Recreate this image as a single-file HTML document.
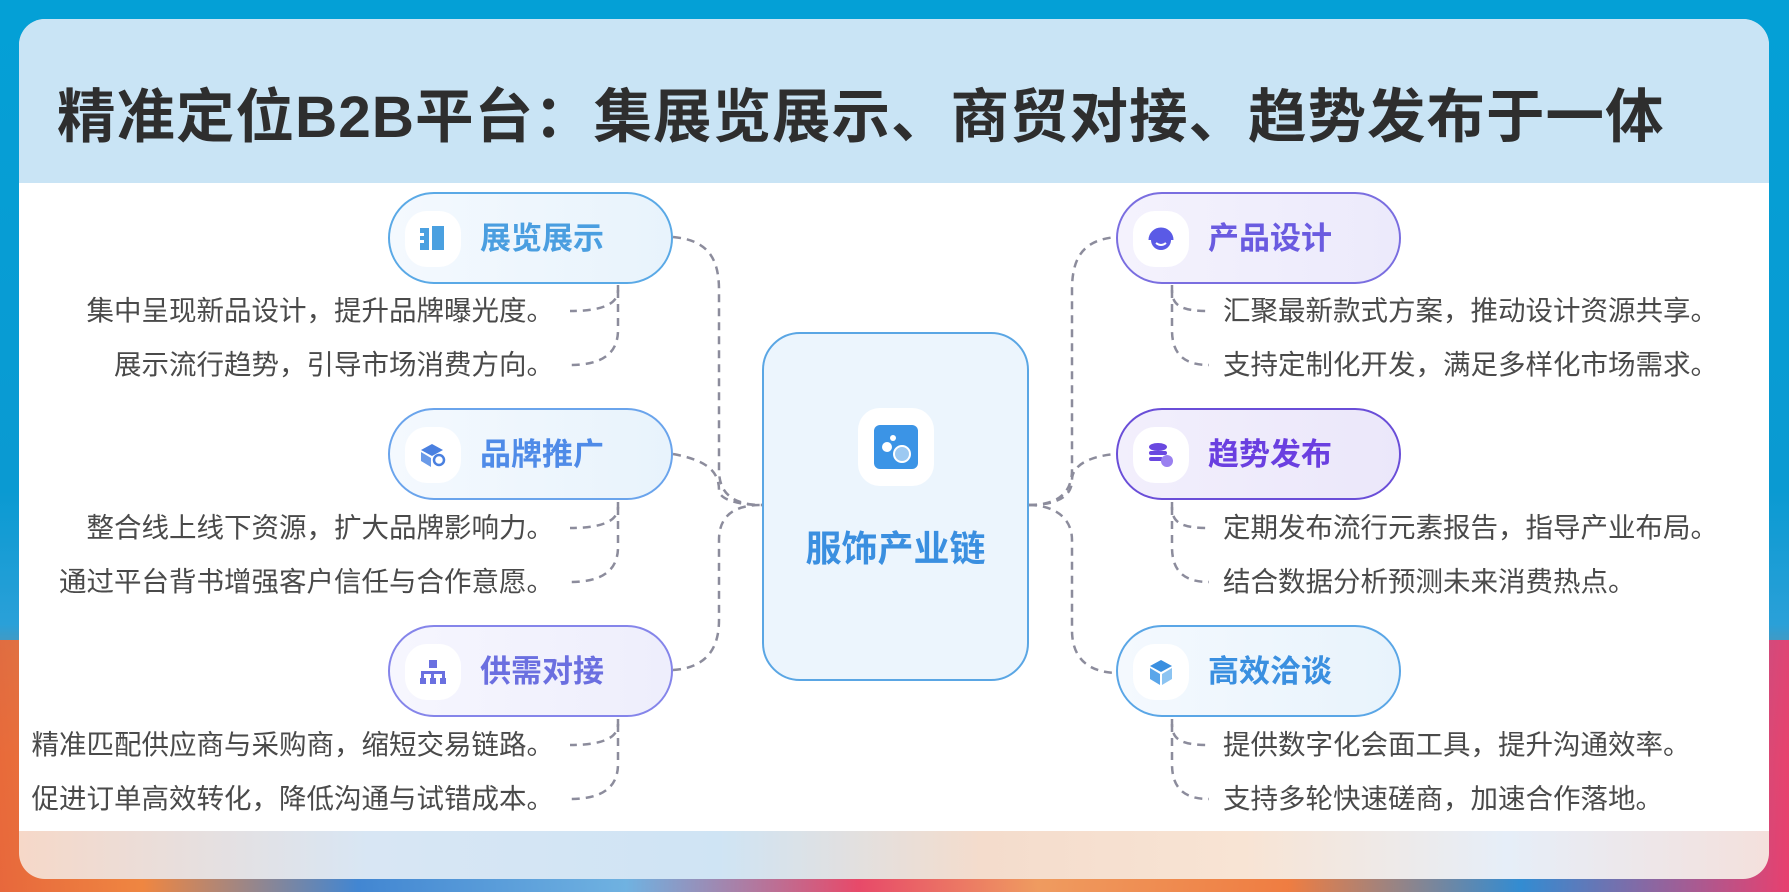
<!DOCTYPE html>
<html><head><meta charset="utf-8"><style>
*{margin:0;padding:0;box-sizing:border-box}
body{width:1789px;height:892px;overflow:hidden;position:relative;font-family:"Liberation Sans","Noto Sans CJK SC",sans-serif;
background:linear-gradient(180deg,#04a0d6 0%,#0a9ad2 55%,#2aa0d8 70%,#e8703a 85%,#d83a5a 100%)}
.bg2{position:absolute;left:0;top:640px;width:1789px;height:252px;background:linear-gradient(90deg,#e86a3a 0%,#f08a40 8%,#3a8ad8 20%,#6ab8e8 35%,#e84a6a 48%,#f0a060 58%,#f08040 72%,#2a90d8 85%,#e84070 100%);opacity:.95}
.card{position:absolute;left:19px;top:19px;width:1750px;height:860px;border-radius:26px;overflow:hidden;background:linear-gradient(90deg,#f6d8c8 0%,#d8e6f4 20%,#cfe4f4 40%,#f4dccc 55%,#f8e4d4 70%,#e6eef8 85%,#f4e0dc 100%)}
.head{position:absolute;left:0;top:0;width:100%;height:164px;background:#c9e4f5}
.title{position:absolute;left:38px;top:50px;font-size:58.5px;font-weight:bold;color:#2e2e2e;white-space:nowrap;letter-spacing:1px}
.body{position:absolute;left:0;top:164px;width:100%;height:648px;background:#fff}
.node{position:absolute;width:285px;height:92px;border-radius:46px;border:2.5px solid #5aa9e6;background:linear-gradient(90deg,#f4f9fe,#e8f3fc)}
.node .ic{position:absolute;left:15px;top:17px;width:56px;height:56px;border-radius:22px;background:#fff;display:flex;align-items:center;justify-content:center}
.node .lb{position:absolute;left:90px;top:0;line-height:90px;font-size:31px;font-weight:bold}
.t{position:absolute;font-size:27.5px;color:#4a4a4a;white-space:nowrap;line-height:34px}
.l{text-align:right;right:1235px}
.r{left:1223px}
</style></head><body>
<div class="bg2"></div>
<div class="card">
<div class="head"><div class="title">精准定位B2B平台：集展览展示、商贸对接、趋势发布于一体</div></div>
<div class="body"></div>
</div>

<svg style="position:absolute;left:0;top:0" width="1789" height="892" fill="none" stroke="#8c8c9c" stroke-width="2.5" stroke-dasharray="8 6">
<path d="M673 237 C705 240 719 255 719 290 L719 470 C719 495 735 505 762 505"/>
<path d="M673 454 C705 460 719 470 719 490 C719 500 740 505 762 505"/>
<path d="M673 670 C705 668 719 650 719 620 L719 540 C719 515 735 505 762 505"/>
<path d="M1029 505 C1055 505 1072 495 1072 470 L1072 290 C1072 255 1085 240 1116 237"/>
<path d="M1029 505 C1050 505 1072 500 1072 480 C1072 465 1090 456 1116 454"/>
<path d="M1029 505 C1050 505 1072 515 1072 540 L1072 630 C1072 660 1090 672 1116 673"/>
<path d="M618 285 L618 290 C618 305 600 311 570 311"/>
<path d="M618 290 L618 330 C618 355 600 365 570 365"/>
<path d="M618 502 L618 507 C618 522 600 528 570 528"/>
<path d="M618 507 L618 547 C618 572 600 582 570 582"/>
<path d="M618 719 L618 724 C618 739 600 745 570 745"/>
<path d="M618 724 L618 764 C618 789 600 799 570 799"/>
<path d="M1172 285 L1172 290 C1172 305 1180 311 1209 311"/>
<path d="M1172 290 L1172 330 C1172 355 1185 365 1209 365"/>
<path d="M1172 502 L1172 507 C1172 522 1180 528 1209 528"/>
<path d="M1172 507 L1172 547 C1172 572 1185 582 1209 582"/>
<path d="M1172 719 L1172 724 C1172 739 1180 745 1209 745"/>
<path d="M1172 724 L1172 764 C1172 789 1185 799 1209 799"/>
</svg>

<div style="position:absolute;left:762px;top:332px;width:267px;height:349px;border-radius:38px;border:2.5px solid #5aa6e4;background:#ecf5fd">
<div style="position:absolute;left:94px;top:74px;width:76px;height:78px;border-radius:22px;background:#fff;display:flex;align-items:center;justify-content:center">
<svg width="44" height="44"><rect x="0" y="0" width="44" height="44" rx="6" fill="#3b94e6"/><circle cx="13" cy="22" r="5" fill="#fff"/><circle cx="19" cy="13" r="3" fill="#fff"/><circle cx="28" cy="29" r="8" fill="#9cc9f2" stroke="#fff" stroke-width="2"/></svg></div>
<div style="position:absolute;left:0;width:100%;top:186px;text-align:center;font-size:36px;font-weight:bold;color:#3a8fe0">服饰产业链</div>
</div>

<div class="node" style="left:388px;top:192px"><div class="ic"><svg width="30" height="30"><rect x="2" y="4" width="9" height="22" fill="#4aa0e0"/><rect x="14" y="2" width="12" height="24" fill="#4aa0e0"/><rect x="0" y="9" width="6" height="3" fill="#fff"/><rect x="0" y="16" width="6" height="3" fill="#fff"/></svg></div><div class="lb" style="color:#4a9ee0">展览展示</div></div>
<div class="node" style="left:388px;top:408px;border-color:#6aa4ec"><div class="ic"><svg width="30" height="30"><path d="M3 10 L14 4 L25 10 L14 16Z" fill="#4a80e0"/><path d="M3 12 L13 18 L13 27 L3 21Z" fill="#6a9ae8"/><circle cx="21" cy="20" r="5" fill="none" stroke="#4a80e0" stroke-width="2.5"/></svg></div><div class="lb" style="color:#4f8be8">品牌推广</div></div>
<div class="node" style="left:388px;top:625px;border-color:#8585ea;background:linear-gradient(90deg,#f6f6fe,#eeeefc)"><div class="ic"><svg width="30" height="30" fill="#6a70e0"><rect x="11" y="3" width="8" height="8"/><rect x="3" y="14" width="24" height="3"/><rect x="3" y="17" width="3" height="5"/><rect x="13" y="17" width="3" height="5"/><rect x="24" y="17" width="3" height="5"/><rect x="2" y="21" width="6" height="6"/><rect x="12" y="21" width="6" height="6"/><rect x="22" y="21" width="6" height="6"/></svg></div><div class="lb" style="color:#6b6fe0">供需对接</div></div>

<div class="node" style="left:1116px;top:192px;border-color:#7a6ee0;background:linear-gradient(90deg,#f4f2fd,#eceafb)"><div class="ic"><svg width="30" height="30"><circle cx="15" cy="16" r="10" fill="#5a5ae6"/><path d="M4 16 A11 11 0 0 1 26 16" stroke="#5a5ae6" stroke-width="3" fill="none"/><path d="M10 19 Q15 23 20 19" stroke="#fff" stroke-width="2" fill="none"/></svg></div><div class="lb" style="color:#6a5be0">产品设计</div></div>
<div class="node" style="left:1116px;top:408px;border-color:#6a4ed8;background:linear-gradient(90deg,#f2effc,#ebe7fa)"><div class="ic"><svg width="30" height="30" fill="#6a48e0"><ellipse cx="12" cy="7" rx="9" ry="4"/><rect x="3" y="11" width="18" height="4" rx="2"/><rect x="3" y="17" width="14" height="4" rx="2"/><circle cx="21" cy="21" r="6" fill="#9a80f0"/></svg></div><div class="lb" style="color:#6a3fe0">趋势发布</div></div>
<div class="node" style="left:1116px;top:625px;border-color:#5aa6e6"><div class="ic"><svg width="30" height="30"><path d="M15 3 L26 9 L15 15 L4 9Z" fill="#3a8fe0"/><path d="M4 11 L14 17 L14 28 L4 22Z" fill="#5aa6ea"/><path d="M26 11 L16 17 L16 28 L26 22Z" fill="#8cc4f2"/></svg></div><div class="lb" style="color:#3a8fe0">高效洽谈</div></div>

<div class="t l" style="top:294px">集中呈现新品设计，提升品牌曝光度。</div>
<div class="t l" style="top:348px">展示流行趋势，引导市场消费方向。</div>
<div class="t l" style="top:511px">整合线上线下资源，扩大品牌影响力。</div>
<div class="t l" style="top:565px">通过平台背书增强客户信任与合作意愿。</div>
<div class="t l" style="top:728px">精准匹配供应商与采购商，缩短交易链路。</div>
<div class="t l" style="top:782px">促进订单高效转化，降低沟通与试错成本。</div>
<div class="t r" style="top:294px">汇聚最新款式方案，推动设计资源共享。</div>
<div class="t r" style="top:348px">支持定制化开发，满足多样化市场需求。</div>
<div class="t r" style="top:511px">定期发布流行元素报告，指导产业布局。</div>
<div class="t r" style="top:565px">结合数据分析预测未来消费热点。</div>
<div class="t r" style="top:728px">提供数字化会面工具，提升沟通效率。</div>
<div class="t r" style="top:782px">支持多轮快速磋商，加速合作落地。</div>
</body></html>
